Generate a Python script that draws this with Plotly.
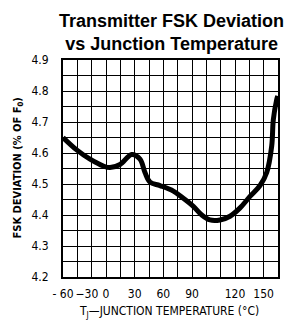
import plotly.graph_objects as go

# Curve (temperature on the chart's 15 °C-per-column scale, % of F0)
temp_c = [-60, -45.7, -31.7, -17.8, -10.8, -0.3, 11.9, 20.6, 25.8, 31.1, 41.5, 55.5,
          65.9, 76.4, 85.2, 93.9, 104.3, 114.8, 125.3, 135.7, 146.2, 153.2, 158.4,
          160.1, 163.6, 164.7]
fsk_dev = [4.65, 4.61, 4.58, 4.558, 4.553, 4.563, 4.595, 4.58, 4.537, 4.506, 4.495, 4.477,
           4.454, 4.428, 4.40, 4.384, 4.384, 4.396, 4.423, 4.46, 4.495, 4.537, 4.622,
           4.707, 4.772, 4.784]

# label positions as they sit on the reference's 15 °C-per-column grid
x_tick_pos = [-60, -35, -15, 15, 45, 75, 120, 150]
x_tick_text = ["- 60", "\u221230", "0", "30", "60", "90", "120", "150"]
y_tick_vals = [4.2, 4.3, 4.4, 4.5, 4.6, 4.7, 4.8, 4.9]
y_tick_text = ["4.2", "4.3", "4.4", "4.5", "4.6", "4.7", "4.8", "4.9"]

NARROW = ("Liberation Sans Narrow, DejaVu Sans Condensed, Roboto Condensed, "
          "Liberation Sans, Arial, sans-serif")

W, H = 289, 318  # page body margin of 8px pushes the figure right/down

fig = go.Figure()
fig.add_trace(go.Scatter(
    x=temp_c, y=fsk_dev, mode="lines",
    line=dict(color="black", width=5, shape="spline", smoothing=1.0),
    hoverinfo="skip", showlegend=False,
))

fig.update_layout(
    width=W, height=H,
    margin=dict(l=55, r=19, t=52, b=49),
    paper_bgcolor="white", plot_bgcolor="white",
    title=dict(
        text="<b>Transmitter FSK Deviation<br>vs Junction Temperature</b>",
        font=dict(family="Liberation Sans, Arial, sans-serif", size=18, color="black"),
        x=0.505, xref="paper", xanchor="center",
        y=1 - 19 / H, yref="container", yanchor="middle",
    ),
)

fig.update_xaxes(
    range=[-60, 165],
    tickmode="array", tickvals=x_tick_pos, ticktext=x_tick_text, tickangle=0,
    showgrid=False, zeroline=False,
    showline=True, mirror=True, linecolor="black", linewidth=2,
    ticks="", ticklabelstandoff=5,
    tickfont=dict(family=NARROW, size=12, color="black"),
    minor=dict(tickmode="linear", tick0=-60, dtick=15, showgrid=True,
               gridcolor="black", gridwidth=1.4, ticks=""),
)
fig.update_yaxes(
    range=[4.2, 4.9],
    tickmode="array", tickvals=y_tick_vals, ticktext=y_tick_text,
    showgrid=False, zeroline=False,
    showline=True, mirror=True, linecolor="black", linewidth=2,
    ticks="", ticklabelstandoff=10,
    tickfont=dict(family=NARROW, size=12, color="black"),
    minor=dict(tickmode="linear", tick0=4.2, dtick=0.05, showgrid=True,
               gridcolor="black", gridwidth=1.4, ticks=""),
)

fig.add_annotation(
    text="<b>FSK DEVIATION (% OF F<sub>0</sub>)</b>",
    xref="paper", yref="paper", x=(17 - 63) / 215, y=0.5,
    xanchor="center", yanchor="middle", textangle=-90, showarrow=False,
    font=dict(family=NARROW, size=11, color="black"),
)
fig.add_annotation(
    text="T<sub>J</sub>\u2014JUNCTION TEMPERATURE (\u00b0C)",
    xref="paper", yref="paper", x=(168.5 - 63) / 215, y=(277 - 312) / 217,
    xanchor="center", yanchor="middle", showarrow=False,
    font=dict(family=NARROW, size=12, color="black"),
)

fig.write_html("out.html")
